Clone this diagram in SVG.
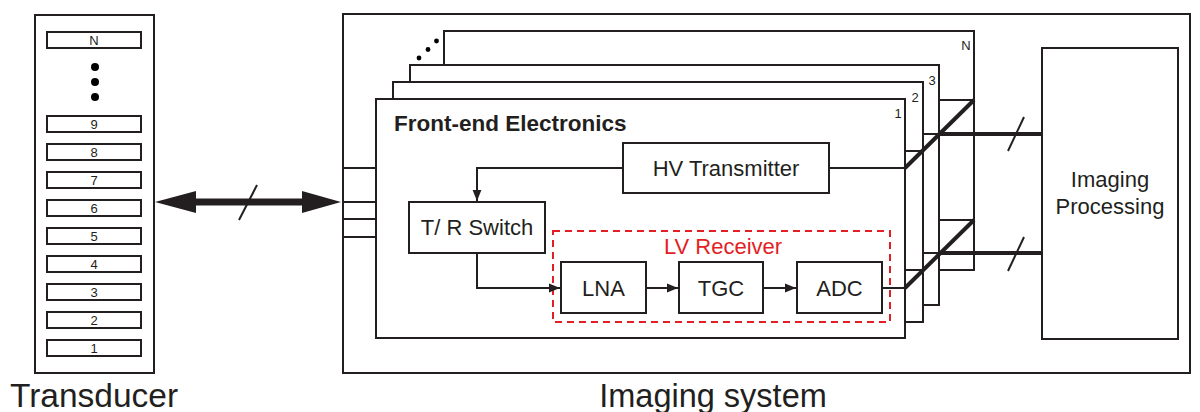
<svg xmlns="http://www.w3.org/2000/svg" width="1200" height="412" viewBox="0 0 1200 412">
<defs>
<style>
.box{fill:#fff;stroke:#231f20;stroke-width:2}
.ln{fill:none;stroke:#231f20;stroke-width:2}
.thick{fill:none;stroke:#231f20;stroke-width:4}
.t{font-family:"Liberation Sans",Arial,sans-serif;fill:#231f20;text-anchor:middle}
.el{font-size:13px}
.big{font-size:32.5px}
.blk{font-size:22px}
.num{font-family:"Liberation Sans",Arial,sans-serif;fill:#231f20;font-size:13px;text-anchor:middle}
</style>
<marker id="ah" viewBox="0 0 10 10" refX="10" refY="5" markerWidth="11" markerHeight="11" markerUnits="userSpaceOnUse" orient="auto">
<path d="M0,1 L10,5 L0,9 Z" fill="#231f20"/>
</marker>
</defs>
<rect width="1200" height="412" fill="#fff"/>

<g id="transducer">
<rect class="box" x="35" y="15" width="119" height="358"/>
<g id="elements">
<rect class="box" x="47" y="32" width="94" height="16"/><text class="t el" x="94" y="45">N</text>
<circle cx="95" cy="67" r="4" fill="#000"/>
<circle cx="95" cy="82" r="4" fill="#000"/>
<circle cx="95" cy="97" r="4" fill="#000"/>
<rect class="box" x="47" y="116" width="94" height="16"/><text class="t el" x="94" y="129">9</text>
<rect class="box" x="47" y="144" width="94" height="16"/><text class="t el" x="94" y="157">8</text>
<rect class="box" x="47" y="172" width="94" height="16"/><text class="t el" x="94" y="185">7</text>
<rect class="box" x="47" y="200" width="94" height="16"/><text class="t el" x="94" y="213">6</text>
<rect class="box" x="47" y="228" width="94" height="16"/><text class="t el" x="94" y="241">5</text>
<rect class="box" x="47" y="256" width="94" height="16"/><text class="t el" x="94" y="269">4</text>
<rect class="box" x="47" y="284" width="94" height="16"/><text class="t el" x="94" y="297">3</text>
<rect class="box" x="47" y="312" width="94" height="16"/><text class="t el" x="94" y="325">2</text>
<rect class="box" x="47" y="340" width="94" height="16"/><text class="t el" x="94" y="353">1</text>
</g>
<text class="t" x="94" y="407" style="font-size:33.5px">Transducer</text>
</g>

<g id="imaging-system">
<rect class="box" x="343" y="14" width="847" height="359"/>
<text class="t big" x="713" y="407">Imaging system</text>
</g>

<g id="frontend-N">
<rect class="box" x="444" y="31" width="530" height="239"/>
<text class="num" x="966" y="50">N</text>
</g>
<g id="stack-dots">
<circle cx="419" cy="58" r="2.4" fill="#000"/>
<circle cx="428" cy="49.5" r="2.4" fill="#000"/>
<circle cx="436.5" cy="41" r="2.4" fill="#000"/>
</g>
<g id="frontend-3">
<rect class="box" x="410" y="65" width="529" height="240"/>
<text class="num" x="932" y="85">3</text>
</g>
<g id="frontend-2">
<rect class="box" x="393" y="82" width="530" height="240"/>
<text class="num" x="915" y="102">2</text>
</g>
<g id="frontend-1">
<rect class="box" x="376" y="99" width="529" height="239"/>
<text class="num" x="898" y="118">1</text>
<text class="t" x="394" y="131" style="font-size:22.5px;font-weight:bold;text-anchor:start">Front-end Electronics</text>
</g>

<g id="hv-transmitter">
<rect class="box" x="623" y="143" width="206" height="50"/>
<text class="t blk" x="726" y="176">HV Transmitter</text>
</g>
<g id="tr-switch">
<rect class="box" x="409" y="202" width="136" height="51"/>
<text class="t blk" x="477" y="235">T/ R Switch</text>
</g>
<g id="lv-receiver">
<rect x="553" y="231" width="337" height="91" fill="none" stroke="#e31e24" stroke-width="2" stroke-dasharray="7,5"/>
<text class="t blk" x="723" y="254" style="fill:#e31e24">LV Receiver</text>
</g>
<g id="lna">
<rect class="box" x="561" y="262" width="85" height="51"/>
<text class="t blk" x="603.5" y="296">LNA</text>
</g>
<g id="tgc">
<rect class="box" x="679" y="262" width="84" height="51"/>
<text class="t blk" x="721" y="296">TGC</text>
</g>
<g id="adc">
<rect class="box" x="797" y="262" width="85" height="51"/>
<text class="t blk" x="839.5" y="296">ADC</text>
</g>
<g id="imaging-processing">
<rect class="box" x="1042" y="48" width="136" height="291"/>
<text class="t blk" x="1110" y="187">Imaging</text>
<text class="t blk" x="1110" y="214">Processing</text>
</g>

<g id="connectors">
<line x1="185" y1="202" x2="313" y2="202" stroke="#231f20" stroke-width="7"/>
<path d="M155,202 L196,191 L196,213 Z" fill="#231f20"/>
<path d="M341,202 L302,191 L302,213 Z" fill="#231f20"/>
<line class="ln" x1="257" y1="185" x2="239" y2="220"/>
<line class="ln" x1="343" y1="168" x2="376" y2="168"/>
<line class="ln" x1="343" y1="202" x2="376" y2="202"/>
<line class="ln" x1="343" y1="219" x2="376" y2="219"/>
<line class="ln" x1="343" y1="237" x2="376" y2="237"/>
<path class="ln" d="M623,168 H477 V201" marker-end="url(#ah)"/>
<path class="ln" d="M477,253 V288 H560" marker-end="url(#ah)"/>
<line class="ln" x1="646" y1="288" x2="678" y2="288" marker-end="url(#ah)"/>
<line class="ln" x1="763" y1="288" x2="796" y2="288" marker-end="url(#ah)"/>
<line class="ln" x1="829" y1="168" x2="905" y2="168"/>
<line class="ln" x1="882" y1="288" x2="905" y2="288"/>
<line class="ln" x1="905" y1="151" x2="923" y2="151"/>
<line class="ln" x1="923" y1="134" x2="939" y2="134"/>
<line class="ln" x1="939" y1="100" x2="974" y2="100"/>
<line class="thick" x1="905" y1="168" x2="974" y2="100"/>
<line class="thick" x1="939" y1="134" x2="1042" y2="134"/>
<line class="ln" x1="1024" y1="117" x2="1008" y2="151"/>
<line class="ln" x1="905" y1="270" x2="923" y2="270"/>
<line class="ln" x1="923" y1="253" x2="939" y2="253"/>
<line class="ln" x1="939" y1="220" x2="974" y2="220"/>
<line class="thick" x1="905" y1="288" x2="974" y2="220"/>
<line class="thick" x1="939" y1="253" x2="1042" y2="253"/>
<line class="ln" x1="1024" y1="237" x2="1008" y2="271"/>
</g>
</svg>
